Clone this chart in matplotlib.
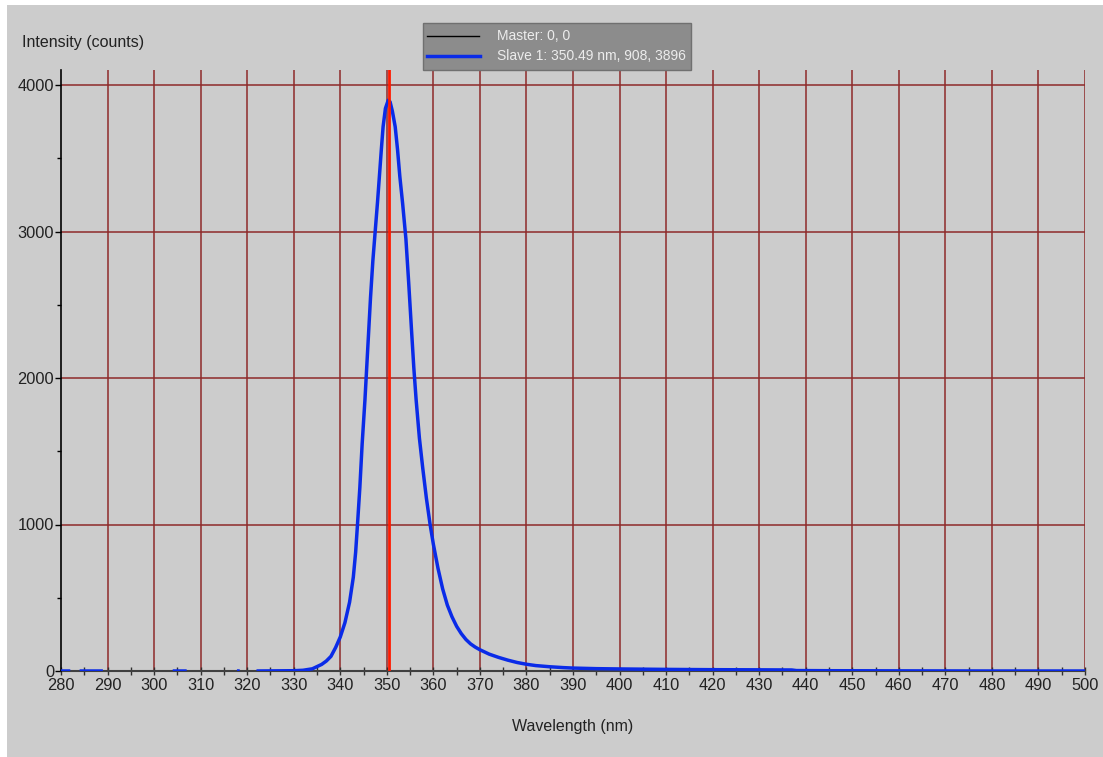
import numpy as np
import matplotlib
matplotlib.use("Agg")
import matplotlib.pyplot as plt
from matplotlib.patches import Rectangle
from matplotlib.lines import Line2D

nan = float("nan")

# Spectrum (NaN = gap in the trace)
wavelength = [280, 282, 282.5, 284, 289, 289.5, 304, 307, 307.5, 317.8, 318.4, 319,
              322, 330, 332, 334, 336, 337, 338, 339, 340, 341, 342, 342.8, 343.3,
              343.7, 344.2, 344.7, 345.3, 345.9, 346.5, 347.0, 347.5, 348.0, 348.4,
              348.8, 349.2, 349.7, 350.3, 350.7, 351.2, 351.8, 352.3, 352.8, 353.4,
              354.1, 354.7, 355.3, 355.8, 356.3, 357.0, 357.7, 358.5, 359.3, 360,
              361, 362, 363, 364, 365, 366, 367, 368, 369, 370, 372, 374, 376, 378,
              380, 382, 385, 388, 390, 395, 400, 410, 420, 430, 437, 438, 445, 460,
              480, 500]
intensity = [0, 0, nan, 0, 0, nan, 0, 0, nan, 0, 0, nan,
             0, 2, 5, 15, 45, 68, 100, 160, 232, 330, 470, 640, 810,
             1000, 1250, 1550, 1850, 2200, 2550, 2800, 3000, 3200, 3374,
             3550, 3715, 3840, 3896, 3885, 3820, 3715, 3560, 3374, 3190,
             2950, 2650, 2330, 2070, 1850, 1590, 1390, 1180, 1000, 865,
             700, 560, 450, 370, 305, 255, 215, 185, 163, 145, 115, 93, 74, 58,
             46, 37, 29, 23, 20, 16, 14, 11, 9, 8, 7, 3, 2, 1,
             0, 0]

cursor_wl = 350.49
x_ticks = list(range(280, 501, 10))
y_ticks = [0, 1000, 2000, 3000, 4000]
legend_labels = ["Master: 0, 0", "Slave 1: 350.49 nm, 908, 3896"]

W, H = 1103, 757
fig = plt.figure(figsize=(W / 100, H / 100), dpi=100)
fig.patch.set_facecolor("white")
fig.add_artist(Rectangle((7 / W, 0), 1 - 7 / W, 1 - 5 / H, transform=fig.transFigure,
                         facecolor="#cccccc", edgecolor="none", zorder=0))

left, right, bottom, top = 61, 1085, 671, 70
ax = fig.add_axes([left / W, 1 - bottom / H, (right - left) / W, (bottom - top) / H])
ax.set_facecolor("none")
ymax = (bottom - top) / 586 * 4000
ax.set_xlim(280, 500)
ax.set_ylim(0, ymax)

grid_c = "#8e2a2a"
for x in x_ticks[1:]:
    ax.axvline(x, color=grid_c, lw=1.1, zorder=1)
for y in y_ticks[1:]:
    ax.axhline(y, color=grid_c, lw=1.1, zorder=1)

ax.plot(wavelength, intensity, color="#0a2be8", lw=2.5, zorder=3,
        solid_capstyle="butt", solid_joinstyle="round")
ax.axvline(cursor_wl, color="#ff1a00", lw=2.0, zorder=4)

for s in ["top", "right"]:
    ax.spines[s].set_visible(False)
ax.spines["left"].set_color("black")
ax.spines["left"].set_linewidth(1.2)
ax.spines["bottom"].set_color("#404040")
ax.spines["bottom"].set_linewidth(1.5)
ax.spines["bottom"].set_zorder(2)

tc = "#222222"
ax.set_xticks(x_ticks)
ax.set_xticks(np.arange(285, 500, 10), minor=True)
ax.set_yticks(y_ticks)
ax.set_yticks([500, 1500, 2500, 3500], minor=True)
ax.tick_params(axis="x", which="both", direction="inout", length=6, width=1, color="#303030",
               labelsize=11.8, labelcolor=tc, pad=2)
ax.tick_params(axis="y", which="major", direction="out", length=4, width=1, color="black",
               labelsize=11.8, labelcolor=tc, pad=1)
ax.tick_params(axis="y", which="minor", direction="out", length=3, width=1, color="black")
for lab in ax.get_xticklabels() + ax.get_yticklabels():
    lab.set_family("Liberation Sans")

fig.text(22 / W, 1 - 42 / H, "Intensity (counts)", fontsize=11.5, family="Liberation Sans",
         color=tc, ha="left", va="center")
fig.text(573 / W, 1 - 727 / H, "Wavelength (nm)", fontsize=11.5, family="Liberation Sans",
         color=tc, ha="center", va="center")

# legend box
fig.add_artist(Rectangle((423 / W, 1 - 70 / H), 268 / W, 47 / H, transform=fig.transFigure,
                         facecolor="#8c8c8c", edgecolor="#707070", lw=1, zorder=5))
fig.add_artist(Line2D([427 / W, 479 / W], [1 - 36 / H, 1 - 36 / H], transform=fig.transFigure,
                      color="black", lw=1, zorder=6))
fig.add_artist(Line2D([427 / W, 480 / W], [1 - 56 / H, 1 - 56 / H], transform=fig.transFigure,
                      color="#0a2be8", lw=2.5, zorder=6))
fig.text(497 / W, 1 - 36 / H, legend_labels[0], fontsize=10, family="Liberation Sans",
         color="#ececec", ha="left", va="center", zorder=7)
fig.text(497 / W, 1 - 56 / H, legend_labels[1], fontsize=10, family="Liberation Sans",
         color="#ececec", ha="left", va="center", zorder=7)

fig.savefig("out.png", dpi=100)
